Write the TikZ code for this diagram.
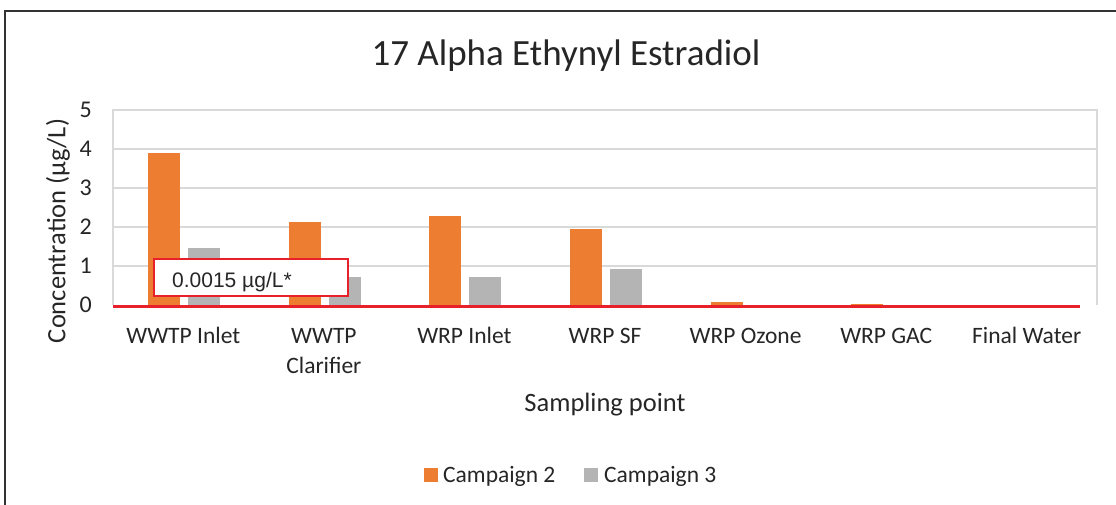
\documentclass[tikz,border=0pt]{standalone}
\usepackage{fontspec}
\setmainfont{Carlito}
\newfontfamily\arialfont{Liberation Sans}
\definecolor{txt}{HTML}{262626}
\definecolor{grid}{HTML}{D9D9D9}
\definecolor{camptwo}{HTML}{ED7D31}
\definecolor{campthree}{HTML}{B4B4B4}
\definecolor{limitred}{HTML}{E8202A}
\definecolor{frame}{HTML}{333333}
\begin{document}
\begin{tikzpicture}[x=1pt,y=-1pt,
  ticklabel/.style={font=\fontsize{24}{28}\selectfont, text=txt, anchor=east, inner sep=0pt},
  catlabel/.style={font=\fontsize{23.5}{28}\selectfont, text=txt, anchor=base, inner sep=0pt},
  axtitle/.style={font=\fontsize{26.5}{30}\selectfont, text=txt, inner sep=0pt},
  legtext/.style={font=\fontsize{23.5}{28}\selectfont, text=txt, anchor=base west, inner sep=0pt}]
\useasboundingbox (0,0) rectangle (1116,505);
\fill[white] (0,0) rectangle (1116,505);
% chart frame (only top and left edges lie inside the picture)
\draw[frame, line width=1.6pt] (5,505) -- (5,11) -- (1116,11);
% plot area border and gridlines
\draw[grid, line width=1.2pt] (113,305) -- (113,110) -- (1097,110) -- (1097,305);
\foreach \v in {1,2,3,4}
  \draw[grid, line width=1.2pt] (113,{305-39*\v}) -- (1097,{305-39*\v});
% y tick labels
\foreach \v in {0,...,5}
  \node[ticklabel] (tick\v) at (92,{305-39*\v}) {\v};
% bars: category centres 113 + 140.57*(i+0.5)
\foreach \i/\a/\b in {0/3.9/1.47, 1/2.12/0.73, 2/2.28/0.72, 3/1.95/0.92, 4/0.08/0, 5/0.02/0, 6/0/0} {
  \pgfmathsetmacro\c{113+140.57*(\i+0.5)}
  \fill[camptwo] (\c-35,305) rectangle (\c-3,{305-39*\a});
  \fill[campthree] (\c+5,305) rectangle (\c+37,{305-39*\b});
}
% detection limit line
\draw[limitred, line width=3pt] (113,306) -- (1080,306);
% limit annotation
\node[draw=limitred, line width=1.6pt, fill=white, minimum width=194pt, minimum height=37pt,
      inner sep=0pt, anchor=north west] (limitbox) at (153,258) {};
\node[font=\arialfont\fontsize{21}{24}\selectfont, text=txt, anchor=base west, inner sep=0pt]
  (limittext) at (172,287) {0.0015 µg/L*};
% category labels
\node[catlabel] (c0) at (183.3,343) {WWTP Inlet};
\node[catlabel] (c1) at (323.9,343) {WWTP};
\node[catlabel] (c1b) at (323.9,373) {Clarifier};
\node[catlabel] (c2) at (464.4,343) {WRP Inlet};
\node[catlabel] (c3) at (605.0,343) {WRP SF};
\node[catlabel] (c4) at (745.6,343) {WRP Ozone};
\node[catlabel] (c5) at (886.2,343) {WRP GAC};
\node[catlabel] (c6) at (1026.7,343) {Final Water};
% titles
\node[font=\fontsize{37}{42}\selectfont, text=txt, inner sep=0pt, anchor=base] (title) at (566,66) {17 Alpha Ethynyl Estradiol};
\node[axtitle, anchor=base] (xtitle) at (605,411) {Sampling point};
\node[axtitle, rotate=90] (ytitle) at (58,231) {Concentration (µg/L)};
% legend
\fill[camptwo] (424,468) rectangle (438,482);
\node[legtext] (leg2) at (443,482) {Campaign 2};
\fill[campthree] (584,468) rectangle (598,482);
\node[legtext] (leg3) at (604,482) {Campaign 3};
\end{tikzpicture}
\end{document}
